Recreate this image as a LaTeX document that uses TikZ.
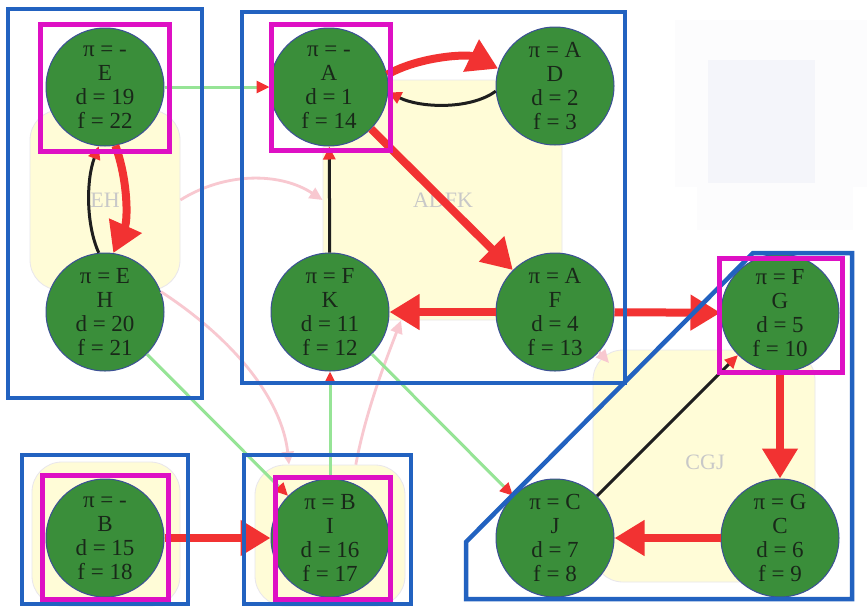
\documentclass[tikz,border=0pt]{standalone}
\usepackage{fontspec}
\setmainfont{Liberation Serif}
\usetikzlibrary{arrows.meta}
\definecolor{nodegreen}{RGB}{58,142,58}
\definecolor{nodeborder}{RGB}{60,80,150}
\definecolor{nodetext}{RGB}{25,40,25}
\definecolor{clusteryellow}{RGB}{255,252,215}
\definecolor{clusterborder}{RGB}{232,230,236}
\definecolor{clustertext}{RGB}{200,200,200}
\definecolor{edgered}{RGB}{242,50,50}
\definecolor{edgegreen}{RGB}{150,228,150}
\definecolor{edgepink}{RGB}{248,200,208}
\definecolor{backblack}{RGB}{30,30,30}
\definecolor{boxblue}{RGB}{34,98,192}
\definecolor{boxmag}{RGB}{222,16,196}
\definecolor{faintA}{RGB}{252,252,253}
\definecolor{faintB}{RGB}{244,245,250}
\begin{document}
\begin{tikzpicture}[x=1pt,y=-1pt,
  gnode/.style={circle, draw=nodeborder, line width=1pt, fill=nodegreen,
    minimum size=118pt, inner sep=0pt, align=center, text=nodetext,
    font=\fontsize{23}{24}\selectfont},
  cluster/.style={draw=clusterborder, line width=0.8pt, fill=clusteryellow, inner sep=0pt},
  clabel/.style={text=clustertext, font=\fontsize{22}{24}\selectfont, inner sep=0pt},
  treeedge/.style={draw=edgered, line width=8pt, -{Triangle[length=30pt,width=34pt,color=edgered]}},
  backedge/.style={draw=backblack, line width=3pt, -{Triangle[length=13pt,width=12pt,color=edgered]}},
  crossedge/.style={draw=edgegreen, line width=3pt, -{Triangle[length=13pt,width=12pt,color=edgered]}},
  pinkedge/.style={draw=edgepink, line width=2.8pt, -{Triangle[length=13pt,width=12pt,color=edgepink]}},
  bluebox/.style={draw=boxblue, line width=4.5pt},
  magbox/.style={draw=boxmag, line width=5pt}
]
\useasboundingbox (0,0) rectangle (867,611);
\fill[white] (0,0) rectangle (867,611);
% faint background artefact, top right
\fill[faintA] (675,20) rectangle (867,187);
\fill[faintA] (697,187) rectangle (853,230);
\fill[faintB] (708,60) rectangle (815,183);

% clusters
\node[cluster, rounded corners=30pt, minimum width=150pt, minimum height=180pt] (EHc) at (105,200) {};
\node[cluster, rounded corners=16pt, minimum width=239pt, minimum height=240pt] (ADFKc) at (442.5,200) {};
\node[cluster, rounded corners=30pt, minimum width=222pt, minimum height=232pt] (CGJc) at (704,466) {};
\node[cluster, rounded corners=30pt, minimum width=148pt, minimum height=144pt] (Bc) at (106,534) {};
\node[cluster, rounded corners=30pt, minimum width=150pt, minimum height=141pt] (Ic) at (330,535.5) {};
\node[clabel] (EHl) at (105,200) {EH};
\node[clabel] (ADFKl) at (443,200) {ADFK};
\node[clabel] (CGJl) at (705,462) {CGJ};

% graph nodes
\node[gnode] (E) at (105,87)  {π = -\\E\\d = 19\\f = 22};
\node[gnode] (A) at (329,87)  {π = -\\A\\d = 1\\f = 14};
\node[gnode] (D) at (555,86)  {π = A\\D\\d = 2\\f = 3};
\node[gnode] (H) at (105,312) {π = E\\H\\d = 20\\f = 21};
\node[gnode] (K) at (330,312) {π = F\\K\\d = 11\\f = 12};
\node[gnode] (F) at (555,312) {π = A\\F\\d = 4\\f = 13};
\node[gnode] (G) at (780,313) {π = F\\G\\d = 5\\f = 10};
\node[gnode] (B) at (105,538) {π = -\\B\\d = 15\\f = 18};
\node[gnode] (I) at (330,538) {π = B\\I\\d = 16\\f = 17};
\node[gnode] (J) at (555,538) {π = C\\J\\d = 7\\f = 8};
\node[gnode] (C) at (780,538) {π = G\\C\\d = 6\\f = 9};

\coordinate (cgjin) at (609,363);

% pink (faint) edges
\draw[pinkedge] (EHc.east) .. controls (225,172) and (280,172) .. (ADFKc.west);
\draw[pinkedge] (H.20) .. controls (235,340) and (282,400) .. (Ic.120);
\draw[pinkedge] (Ic.70) .. controls (366,410) and (386,360) .. (ADFKc.-109);
\draw[pinkedge] (F.-42) -- (cgjin);

% green edges
\draw[crossedge] (E) -- (A);
\draw[crossedge] (H) -- (I);
\draw[crossedge] (I) -- (K);
\draw[crossedge] (K) -- (J);

% black back edges
\draw[backedge] (H.96) .. controls (86,225) and (86,180) .. (E.-96);
\draw[backedge] (D.185) .. controls (470,110) and (420,108) .. (A.-5);
\draw[backedge] (K) -- (A);
\draw[backedge] (J) -- (G);

% red tree edges
\draw[treeedge] (E.-80) .. controls (128,180) and (128,220) .. (H.82);
\draw[treeedge] (A.12) .. controls (420,56) and (468,54) .. (D.163);
\draw[treeedge] (A) -- (F);
\draw[treeedge] (F) -- (K);
\draw[treeedge] (F) -- (G);
\draw[treeedge] (G) -- (C);
\draw[treeedge] (C) -- (J);
\draw[treeedge] (B) -- (I);

% blue boxes
\draw[bluebox] (8,9) rectangle (202,398);
\draw[bluebox] (242,12) rectangle (625,383);
\draw[bluebox] (22,455) rectangle (188,604);
\draw[bluebox] (244,455) rectangle (411,604);
\draw[bluebox] (466,542) -- (753,253) -- (852,253) -- (852,599) -- (466,599) -- cycle;

% magenta boxes
\draw[magbox] (40,24) rectangle (169,151);
\draw[magbox] (271,24) rectangle (390,150);
\draw[magbox] (719,258) rectangle (842,372);
\draw[magbox] (42,475) rectangle (168,599);
\draw[magbox] (275,477) rectangle (390,599);
\end{tikzpicture}
\end{document}
